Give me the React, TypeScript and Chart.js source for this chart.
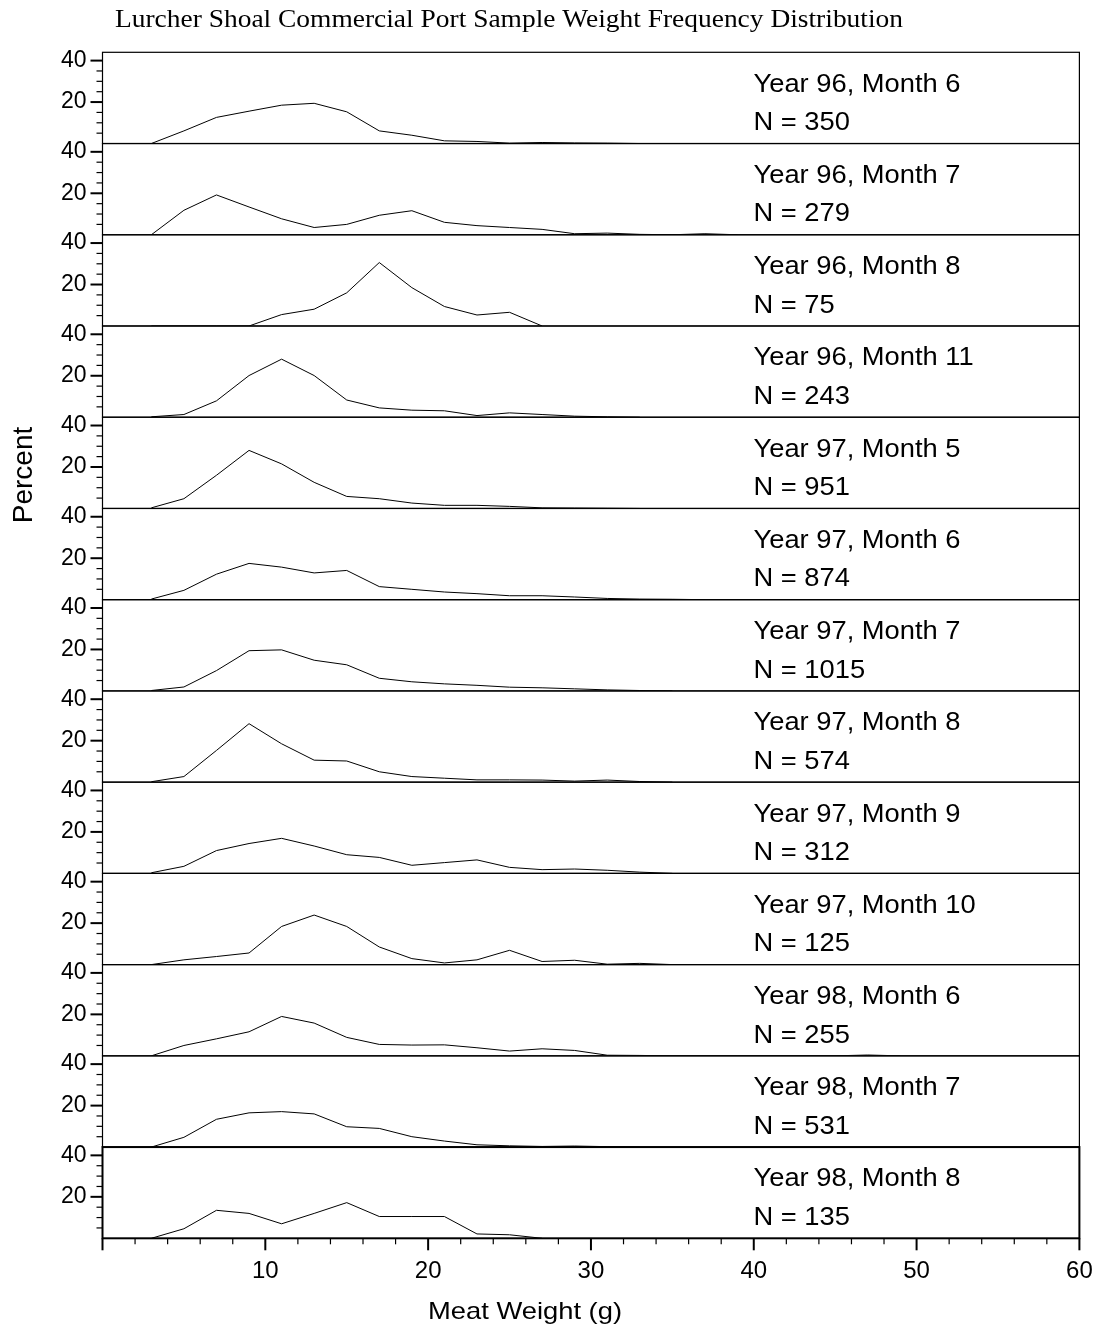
import React, { useEffect, useRef } from 'react';
import { Chart, registerables } from 'chart.js';

Chart.register(...registerables);

const TITLE = 'Lurcher Shoal Commercial Port Sample Weight Frequency Distribution';
const X_TITLE = 'Meat Weight (g)';
const Y_TITLE = 'Percent';

// bin mid-points (g)
const weightBins = [3, 5, 7, 9, 11, 13, 15, 17, 19, 21, 23, 25, 27, 29, 31, 33, 35, 37, 39, 41, 43, 45, 47, 49];

const panelYears = [96, 96, 96, 96, 97, 97, 97, 97, 97, 97, 98, 98, 98];
const panelMonths = [6, 7, 8, 11, 5, 6, 7, 8, 9, 10, 6, 7, 8];
const sampleSizes = [350, 279, 75, 243, 951, 874, 1015, 574, 312, 125, 255, 531, 135];

const pct96m6 = [0, 6.1, 12.6, 15.6, 18.5, 19.4, 15.3, 6.1, 4.0, 1.3, 1.0, 0.2, 0.5, 0.3, 0.2, 0];
const pct96m7 = [0, 11.8, 19.2, 13.4, 7.7, 3.5, 5.0, 9.4, 11.6, 6.0, 4.4, 3.5, 2.6, 0.5, 0.8, 0.2, 0, 0.5, 0];
const pct96m8 = [0, 0, 0, 0, 5.5, 8.1, 16.0, 30.6, 18.5, 9.4, 5.3, 6.6, 0];
const pct96m11 = [0.2, 1.3, 7.9, 20.1, 28.0, 20.1, 8.3, 4.5, 3.4, 3.1, 0.8, 2.1, 1.3, 0.5, 0.2, 0];
const pct97m5 = [0.3, 4.7, 16.0, 28.0, 21.5, 12.6, 5.8, 4.7, 2.6, 1.5, 1.5, 1.0, 0.3, 0.2, 0.1, 0];
const pct97m6 = [0.3, 4.5, 12.3, 17.5, 15.7, 12.9, 14.1, 6.3, 5.0, 3.7, 2.9, 1.9, 1.9, 1.3, 0.6, 0.3, 0.2, 0];
const pct97m7 = [0.2, 1.9, 9.8, 19.4, 19.8, 14.8, 12.6, 6.1, 4.4, 3.4, 2.7, 1.8, 1.5, 1.0, 0.5, 0.2, 0];
const pct97m8 = [0.2, 2.7, 15.3, 28.2, 18.5, 10.6, 10.2, 5.0, 2.7, 1.9, 1.1, 1.1, 1.0, 0.5, 1.0, 0.3, 0];
const pct97m9 = [0.3, 3.4, 11.0, 14.4, 16.9, 13.2, 9.0, 7.7, 3.9, 5.2, 6.5, 2.9, 1.8, 2.1, 1.5, 0.6, 0];
const pct97m10 = [0, 2.3, 3.9, 5.6, 18.4, 23.9, 18.4, 8.5, 2.9, 0.8, 2.3, 6.9, 1.5, 2.1, 0.2, 0.6, 0];
const pct98m6 = [0, 5.0, 8.2, 11.6, 19.0, 15.8, 8.9, 5.5, 5.2, 5.3, 3.9, 2.3, 3.4, 2.6, 0.3, 0.2, 0, 0, 0, 0, 0, 0, 0.4, 0];
const pct98m7 = [0, 4.7, 13.4, 16.5, 17.1, 16.0, 9.8, 9.0, 5.0, 2.9, 1.1, 0.6, 0.3, 0.5, 0.2, 0];
const pct98m8 = [0, 4.6, 13.5, 12.0, 7.0, 12.0, 17.2, 10.5, 10.5, 10.5, 2.1, 1.7, 0];

const panelSeries = [
  pct96m6, pct96m7, pct96m8, pct96m11, pct97m5, pct97m6, pct97m7,
  pct97m8, pct97m9, pct97m10, pct98m6, pct98m7, pct98m8,
];

const yTickLabels = [20, 40];
const xTickLabels = [10, 20, 30, 40, 50, 60];

const SANS = '"Liberation Sans", Arial, Helvetica, sans-serif';
const SERIF = '"Liberation Serif", "Times New Roman", Times, serif';

const panelPlugin = {
  id: 'panelDecor',
  afterDraw(chart: any) {
    const ctx = chart.ctx as CanvasRenderingContext2D;
    const { left, right } = chart.chartArea;
    ctx.save();
    ctx.strokeStyle = '#000';
    ctx.fillStyle = '#000';

    ctx.font = `25px ${SANS}`;
    const sx = 207 / ctx.measureText('Year 96, Month 6').width;

    panelSeries.forEach((_, i) => {
      const s = chart.scales['y' + i];
      const top = s.top;
      const bottom = s.bottom;
      const last = i === panelSeries.length - 1;
      ctx.lineWidth = last ? 2 : 1.2;
      ctx.strokeRect(left, top, right - left, bottom - top);

      for (let v = 5; v <= 40; v += 5) {
        const y = s.getPixelForValue(v);
        const major = v % 20 === 0;
        const len = major ? 12 : 6;
        ctx.lineWidth = major ? 2 : 1.2;
        ctx.beginPath();
        ctx.moveTo(left - len, y);
        ctx.lineTo(left, y);
        ctx.stroke();
      }

      ctx.font = `25px ${SANS}`;
      ctx.textAlign = 'left';
      ctx.textBaseline = 'alphabetic';
      const lines = [
        { t: `Year ${panelYears[i]}, Month ${panelMonths[i]}`, y: top + 39.4 },
        { t: `N = ${sampleSizes[i]}`, y: bottom - 13.3 },
      ];
      lines.forEach((ln) => {
        ctx.save();
        ctx.translate(753.5, ln.y);
        ctx.scale(sx, 1);
        ctx.fillText(ln.t, 0, 0);
        ctx.restore();
      });
    });

    const xs = chart.scales.x;
    const axisY = chart.chartArea.bottom;
    for (let v = 0; v <= 60; v += 2) {
      const x = xs.getPixelForValue(v);
      const major = v % 10 === 0;
      ctx.lineWidth = major ? 2 : 1.2;
      ctx.beginPath();
      ctx.moveTo(x, axisY);
      ctx.lineTo(x, axisY + (major ? 12 : 6));
      ctx.stroke();
    }

    ctx.font = `26px ${SERIF}`;
    ctx.textAlign = 'left';
    ctx.textBaseline = 'alphabetic';
    const tw = ctx.measureText(TITLE).width;
    ctx.save();
    ctx.translate(115, 27);
    ctx.scale(788 / tw, 1);
    ctx.fillText(TITLE, 0, 0);
    ctx.restore();

    ctx.font = `24px ${SANS}`;
    ctx.textAlign = 'center';
    const xw = ctx.measureText(X_TITLE).width;
    ctx.save();
    ctx.translate(525, 1319);
    ctx.scale(194 / xw, 1);
    ctx.fillText(X_TITLE, 0, 0);
    ctx.restore();

    ctx.font = `28px ${SANS}`;
    ctx.textAlign = 'center';
    ctx.save();
    ctx.translate(31.5, 475);
    ctx.rotate(-Math.PI / 2);
    ctx.fillText(Y_TITLE, 0, 0);
    ctx.restore();

    ctx.restore();
  },
};

export default function App() {
  const ref = useRef<HTMLCanvasElement | null>(null);

  useEffect(() => {
    if (!ref.current) return;
    const scales: any = {
      x: {
        type: 'linear',
        position: 'bottom',
        min: 0,
        max: 60,
        grid: { display: false, drawTicks: false },
        border: { display: false },
        ticks: {
          stepSize: 10,
          autoSkip: false,
          maxRotation: 0,
          padding: 19,
          color: '#000',
          font: { family: SANS, size: 24 },
          callback: (v: any) => (xTickLabels.includes(Number(v)) ? String(v) : ''),
        },
        afterFit: (s: any) => {
          s.height = 1330 - 1238.3;
          s.paddingLeft = 0;
          s.paddingRight = 0;
        },
      },
    };
    // stacked scales: later-defined ones are placed higher, so define bottom panel first
    for (let i = panelSeries.length - 1; i >= 0; i--) {
      scales['y' + i] = {
        type: 'linear',
        position: 'left',
        stack: 'panels',
        stackWeight: 1,
        min: 0,
        max: 44,
        grid: { display: false, drawTicks: false },
        border: { display: false },
        ticks: {
          stepSize: 20,
          includeBounds: false,
          autoSkip: false,
          padding: 16,
          color: '#000',
          font: { family: SANS, size: 23 },
          callback: (v: any) => (yTickLabels.includes(Number(v)) ? String(v) : ''),
        },
        afterFit: (s: any) => {
          s.width = 102.5;
          s.paddingTop = 0;
          s.paddingBottom = 0;
        },
      };
    }

    const chart = new Chart(ref.current, {
      type: 'line',
      data: {
        datasets: panelSeries.map((vals, i) => ({
          label: `Year ${panelYears[i]}, Month ${panelMonths[i]}`,
          data: vals.map((v, j) => ({ x: weightBins[j], y: v })),
          xAxisID: 'x',
          yAxisID: 'y' + i,
          borderColor: '#000',
          borderWidth: 1,
          pointRadius: 0,
          fill: false,
          tension: 0,
        })),
      },
      options: {
        responsive: false,
        animation: false,
        layout: { padding: { top: 52.3, left: 0, right: 1100 - 1079.4, bottom: 0 } },
        plugins: {
          legend: { display: false },
          tooltip: { enabled: false },
          title: { display: false },
        },
        scales,
      },
      plugins: [panelPlugin],
    });
    return () => chart.destroy();
  }, []);

  return (
    <div style={{ position: 'absolute', left: 0, top: 0, width: 1100, height: 1330, background: '#fff' }}>
      <canvas ref={ref} width={1100} height={1330} style={{ display: 'block', width: 1100, height: 1330 }} />
    </div>
  );
}
